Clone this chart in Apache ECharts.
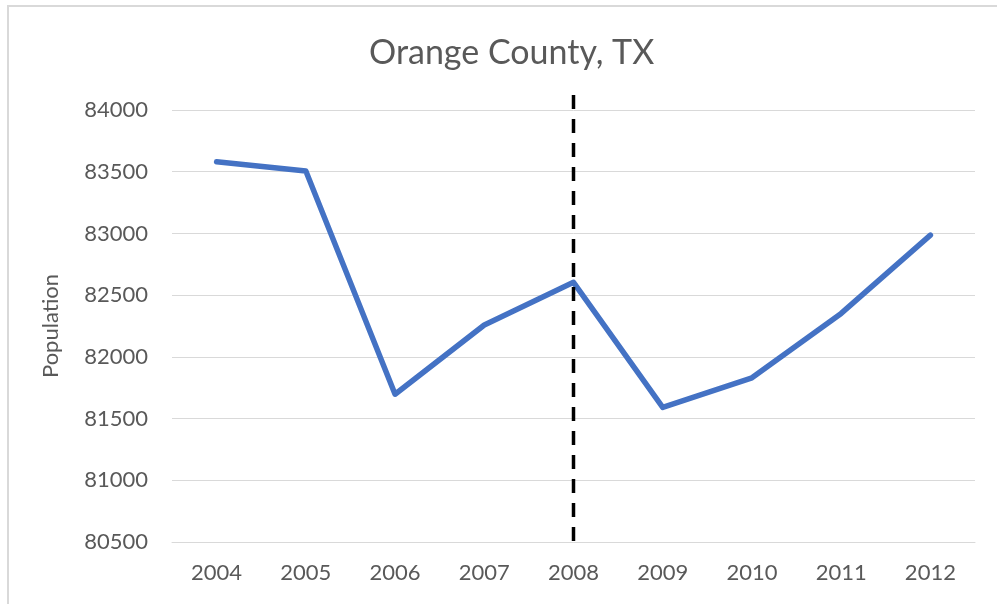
<!DOCTYPE html>
<html>
<head>
<meta charset="utf-8">
<script src="https://cdn.jsdelivr.net/npm/echarts@6/dist/echarts.min.js"></script>
<style>
  html, body { margin: 0; padding: 0; background: #fff; }
  #frame {
    position: absolute; left: 7px; top: 5px; width: 1000px; height: 610px;
    border-top: 2px solid #d9d9d9; border-left: 2px solid #d9d9d9;
  }
  #chart { position: absolute; left: 0; top: 0; width: 997px; height: 604px; }
</style>
</head>
<body>
<div id="frame"></div>
<div id="chart"></div>
<script>
const TITLE = "Orange County, TX";
const YEARS = ["2004", "2005", "2006", "2007", "2008", "2009", "2010", "2011", "2012"];
const POPULATION = [83580, 83505, 81697, 82258, 82604, 81590, 81830, 82352, 82986];
const MARKER_YEAR = "2008";

const BLUE = "#4472c4";
const TEXT = "#595959";
const GRID = "#d9d9d9";
const FONT = "Lato";

const chart = echarts.init(document.getElementById("chart"), null, { renderer: "canvas" });

chart.setOption({
  animation: false,
  backgroundColor: "transparent",
  title: {
    text: TITLE,
    left: 364,
    top: 31,
    textStyle: { color: TEXT, fontSize: 34, fontWeight: "normal", fontFamily: FONT },
  },
  grid: [
    { left: 172, right: 22, top: 110, bottom: 62 },
    // taller grid so the dashed marker overshoots the plot like in the original
    { left: 172, right: 22, top: 95, bottom: 53 },
  ],
  xAxis: [
    {
      type: "category",
      data: YEARS,
      gridIndex: 0,
      axisLine: { lineStyle: { color: GRID, width: 1 } },
      axisTick: { show: false },
      axisLabel: { color: TEXT, fontSize: 22, fontFamily: FONT, margin: 20 },
    },
    { type: "category", data: YEARS, gridIndex: 1, show: false },
  ],
  yAxis: [
    {
      type: "value",
      gridIndex: 0,
      min: 80500,
      max: 84000,
      interval: 500,
      name: "Population",
      nameLocation: "middle",
      nameGap: 110,
      nameTextStyle: { color: TEXT, fontSize: 22, fontFamily: FONT },
      axisLine: { show: false },
      axisTick: { show: false },
      axisLabel: {
        color: TEXT, fontSize: 22, fontFamily: FONT, margin: 24,
        formatter: (v) => String(v),
      },
      splitLine: { lineStyle: { color: GRID, width: 1 } },
    },
    { type: "value", gridIndex: 1, min: 0, max: 1, show: false },
  ],
  series: [
    {
      name: "Population",
      type: "line",
      data: POPULATION,
      showSymbol: false,
      lineStyle: { color: BLUE, width: 5.5, cap: "round", join: "round" },
    },
    {
      name: "Marker",
      type: "line",
      xAxisIndex: 1,
      yAxisIndex: 1,
      data: [[MARKER_YEAR, 1], [MARKER_YEAR, 0]],
      showSymbol: false,
      lineStyle: { color: "#000", width: 3.5, type: [14, 10] },
    },
  ],
});
</script>
</body>
</html>
